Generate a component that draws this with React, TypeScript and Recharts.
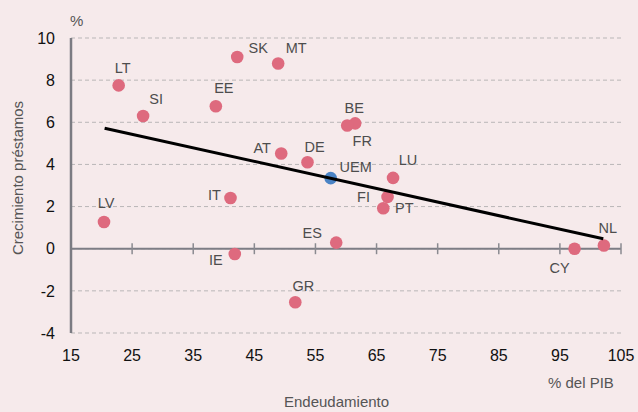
import React from "react";
import { ScatterChart, Scatter, XAxis, YAxis, CartesianGrid, ReferenceLine } from "recharts";

const countries = ["LT", "SI", "EE", "SK", "MT", "AT", "DE", "BE", "FR", "UEM", "LU", "FI", "PT", "ES", "CY", "NL", "LV", "IT", "IE", "GR"];
const debt = [22.8, 26.8, 38.7, 42.2, 48.9, 49.4, 53.7, 61.5, 60.2, 57.5, 67.7, 66.8, 66.1, 58.4, 97.4, 102.2, 20.4, 41.1, 41.8, 51.7];
const loanGrowth = [7.75, 6.3, 6.76, 9.1, 8.79, 4.52, 4.1, 5.95, 5.85, 3.35, 3.36, 2.46, 1.92, 0.29, 0.0, 0.15, 1.27, 2.41, -0.25, -2.54];
const trendX = [20.5, 102.1];
const trendY = [5.72, 0.47];
const xTicks = [15, 25, 35, 45, 55, 65, 75, 85, 95, 105];
const yTicks = [-4, -2, 0, 2, 4, 6, 8, 10];

// label offsets in pixels (layout only)
const labelOffset: Record<string, [number, number]> = {
  LT: [4, -18], SI: [13, -17], EE: [8, -18], SK: [21, -9], MT: [18, -16],
  AT: [-19, -6], DE: [7, -16], BE: [-1, -16], FR: [15, 15], UEM: [25, -11],
  LU: [15, -18], FI: [-24, 0], PT: [21, 0], ES: [-24, -10], CY: [-15, 19],
  NL: [4, -18], LV: [2, -19], IT: [-16, -3], IE: [-19, 6], GR: [8, -16],
};

const points = countries.map((c, i) => ({ name: c, x: debt[i], y: loanGrowth[i] }));
const trend = trendX.map((x, i) => ({ x, y: trendY[i] }));

const FONT = "'Liberation Sans', Arial, Helvetica, sans-serif";
const BG = "#f6eaeb";
const PINK = "#de6a7e";
const BLUE = "#4a83c5";

const PointShape = (props: any) => {
  const { cx, cy, payload } = props;
  const name = payload.name;
  const off = labelOffset[name] || [0, -16];
  return (
    <g>
      <circle cx={cx} cy={cy} r={6.3} fill={name === "UEM" ? BLUE : PINK} />
      <text x={cx + off[0]} y={cy + off[1]} dy="0.36em" textAnchor="middle" fontSize={14.5} fill="#4d4d4d" fontFamily={FONT}>
        {name}
      </text>
    </g>
  );
};

export default function App() {
  return (
    <div style={{ position: "absolute", left: 0, top: 0, width: 638, height: 412, background: BG, fontFamily: FONT, overflow: "hidden" }}>
      <ScatterChart width={638} height={412} margin={{ top: 38, right: 17, bottom: 0, left: 21 }}>
        <CartesianGrid horizontal vertical={false} stroke="#b9b6b7" strokeDasharray="4 3" strokeWidth={1} />
        <XAxis
          type="number"
          dataKey="x"
          domain={[15, 105]}
          ticks={xTicks}
          interval={0}
          axisLine={false}
          tickLine={false}
          tickSize={0}
          tickMargin={17}
          height={79}
          tick={{ fontSize: 16, fill: "#111", fontFamily: FONT }}
        />
        <YAxis
          type="number"
          dataKey="y"
          domain={[-4, 10]}
          ticks={yTicks}
          interval={0}
          width={50}
          axisLine={{ stroke: "#7b7b82", strokeWidth: 2.5 }}
          tickLine={false}
          tickSize={0}
          tickMargin={16}
          tick={{ fontSize: 16, fill: "#111", fontFamily: FONT }}
        />
        <ReferenceLine y={0} stroke="#7d7d85" strokeWidth={2} />
        {xTicks.slice(1).map((t) => (
          <ReferenceLine
            key={t}
            segment={[{ x: t, y: -0.26 }, { x: t, y: 0.26 }]}
            stroke="#8a8a90"
            strokeWidth={1.5}
          />
        ))}
        <Scatter data={points} isAnimationActive={false} shape={PointShape} />
        <Scatter
          data={trend}
          isAnimationActive={false}
          line={{ stroke: "#000", strokeWidth: 3 }}
          shape={() => <g />}
        />
      </ScatterChart>
      <div style={{ position: "absolute", left: 70, top: 12, fontSize: 15, color: "#555", fontFamily: FONT }}>%</div>
      <div style={{ position: "absolute", left: 548, top: 374, fontSize: 15, color: "#555", fontFamily: FONT, whiteSpace: "nowrap" }}>% del PIB</div>
      <div style={{ position: "absolute", left: 284, top: 393, fontSize: 15, lineHeight: "17px", color: "#555", fontFamily: FONT, whiteSpace: "nowrap" }}>Endeudamiento</div>
      <div
        style={{
          position: "absolute",
          left: 17,
          top: 178,
          transform: "translate(-50%, -50%) rotate(-90deg)",
          fontSize: 15,
          color: "#555",
          fontFamily: FONT,
          whiteSpace: "nowrap",
        }}
      >
        Crecimiento préstamos
      </div>
    </div>
  );
}
